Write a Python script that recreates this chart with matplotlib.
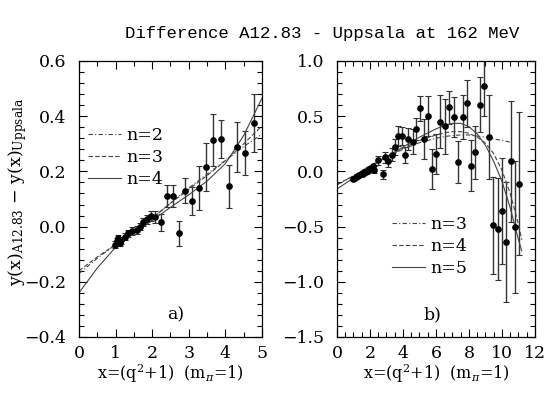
import numpy as np
import matplotlib
matplotlib.use("Agg")
import matplotlib.pyplot as plt
from matplotlib.ticker import MultipleLocator

# ---- panel a) data ----
xa = [0.98, 1.03, 1.07, 1.12, 1.16, 1.26, 1.35, 1.44, 1.58, 1.67, 1.74, 1.85, 1.97, 2.09,
      2.24, 2.41, 2.56, 2.73, 2.91, 3.08, 3.28, 3.47, 3.67, 3.88, 4.11, 4.33, 4.55, 4.78]
ya = [-0.066, -0.054, -0.042, -0.060, -0.050, -0.036, -0.024, -0.016, -0.012, 0.000, 0.016,
      0.026, 0.040, 0.036, 0.015, 0.110, 0.110, -0.024, 0.130, 0.092, 0.140, 0.216, 0.314,
      0.318, 0.146, 0.288, 0.267, 0.375]
ea = [0.012, 0.012, 0.012, 0.012, 0.012, 0.012, 0.013, 0.013, 0.014, 0.014, 0.015, 0.016,
      0.018, 0.022, 0.032, 0.040, 0.040, 0.045, 0.045, 0.050, 0.080, 0.088, 0.095, 0.070,
      0.078, 0.090, 0.080, 0.105]

xa_fit = [0.0, 0.5, 1.0, 1.5, 2.0, 2.5, 3.0, 3.5, 4.0, 4.5, 5.0]
fit_a_n2 = [-0.170, -0.115, -0.065, -0.020, 0.030, 0.085, 0.140, 0.190, 0.240, 0.290, 0.335]
fit_a_n3 = [-0.160, -0.110, -0.065, -0.020, 0.030, 0.085, 0.135, 0.185, 0.238, 0.300, 0.365]
fit_a_n4 = [-0.240, -0.150, -0.075, -0.025, 0.022, 0.070, 0.115, 0.165, 0.228, 0.330, 0.465]

# ---- panel b) data ----
xb = [1.00, 1.09, 1.18, 1.27, 1.36, 1.45, 1.55, 1.65, 1.75, 1.85, 1.95, 2.05, 2.16, 2.26,
      2.50, 2.77, 2.91, 3.11, 3.31, 3.52, 3.72, 3.92, 4.12, 4.33, 4.59, 4.79, 5.03, 5.27,
      5.53, 5.78, 6.00, 6.24, 6.55, 6.80, 7.07, 7.35, 7.61, 7.86, 8.14, 8.38, 8.67, 8.93,
      9.21, 9.47, 9.76, 10.02, 10.27, 10.54, 10.81, 11.05]
yb = [-0.065, -0.057, -0.050, -0.040, -0.035, -0.025, -0.020, -0.010, -0.002, 0.008, 0.018,
      0.030, 0.047, 0.017, 0.100, -0.025, 0.130, 0.092, 0.150, 0.220, 0.320, 0.320, 0.150,
      0.290, 0.270, 0.380, 0.570, 0.295, 0.500, 0.020, 0.160, 0.450, 0.410, 0.580, 0.495,
      0.085, 0.495, 0.615, 0.050, 0.175, 0.605, 0.770, 0.310, -0.490, -0.520, -0.360,
      -0.640, 0.090, -0.505, -0.110]
eb = [0.012, 0.012, 0.012, 0.012, 0.012, 0.012, 0.012, 0.012, 0.012, 0.012, 0.013, 0.014,
      0.015, 0.030, 0.040, 0.040, 0.050, 0.055, 0.060, 0.075, 0.090, 0.085, 0.075, 0.100,
      0.110, 0.100, 0.110, 0.180, 0.180, 0.180, 0.180, 0.240, 0.250, 0.150, 0.180, 0.190,
      0.200, 0.210, 0.230, 0.240, 0.250, 0.270, 0.380, 0.440, 0.460, 0.480, 0.540, 0.550,
      0.600, 0.650]

xb_fit = [0.0, 1.0, 2.0, 3.0, 4.0, 5.0, 6.0, 6.5, 7.0, 7.5, 8.0, 8.5, 9.0, 9.5, 10.0,
          10.5, 11.0, 11.2]
fit_b_n3 = [-0.120, -0.040, 0.050, 0.130, 0.200, 0.260, 0.300, 0.315, 0.325, 0.330, 0.330,
            0.320, 0.310, 0.295, 0.280, 0.265, None, None]
fit_b_n4 = [-0.120, -0.040, 0.050, 0.130, 0.210, 0.280, 0.330, 0.350, 0.360, 0.360, 0.345,
            0.310, 0.255, 0.160, 0.010, -0.200, -0.480, -0.620]
fit_b_n5 = [-0.160, -0.060, 0.040, 0.130, 0.220, 0.310, 0.385, 0.415, 0.435, 0.435, 0.405,
            0.340, 0.235, 0.090, -0.090, -0.330, -0.620, -0.720]

plt.rcParams["font.family"] = "DejaVu Serif"
plt.rcParams["mathtext.fontset"] = "dejavuserif"

fig = plt.figure(figsize=(5.5, 3.94), dpi=100)
ax_a = fig.add_axes([0.1436, 0.1447, 0.3327, 0.7005])
ax_b = fig.add_axes([0.6127, 0.1447, 0.3600, 0.7005])

line_col = "#444444"


def style_axes(ax, xmaj, xmin, ymaj, ymin):
    ax.xaxis.set_major_locator(MultipleLocator(xmaj))
    ax.xaxis.set_minor_locator(MultipleLocator(xmin))
    ax.yaxis.set_major_locator(MultipleLocator(ymaj))
    ax.yaxis.set_minor_locator(MultipleLocator(ymin))
    ax.tick_params(which="both", direction="in", top=True, right=True, labelsize=12.5, width=0.8)
    ax.tick_params(which="major", length=6)
    ax.tick_params(which="minor", length=3.5)
    ax.tick_params(axis="x", which="major", pad=6)
    ax.tick_params(axis="y", which="major", pad=9)
    ax.yaxis.set_major_formatter(plt.FuncFormatter(lambda v, p: f"{v:.1f}".replace("-", "\u2212")))
    for s in ax.spines.values():
        s.set_linewidth(0.9)


def plot_fit(ax, x, y, **kw):
    xs = [a for a, b in zip(x, y) if b is not None]
    ys = [b for b in y if b is not None]
    return ax.plot(xs, ys, color=line_col, lw=0.8, **kw)[0]


xlabel = r"x=(q$^2$+1)  (m$_\pi$=1)"
legend_kw = dict(loc="upper left", frameon=False, handlelength=1.9, handletextpad=0.3,
                 labelspacing=0.3, borderaxespad=0.0, fontsize=12.5)

# panel a
ax_a.errorbar(xa, ya, yerr=ea, fmt="o", color="black", ecolor="#333333", ms=3.8,
              elinewidth=1.0, capsize=2.5, capthick=0.8)
h2 = plot_fit(ax_a, xa_fit, fit_a_n2, ls=(0, (4, 2, 1, 2)))
h3 = plot_fit(ax_a, xa_fit, fit_a_n3, ls=(0, (4, 2)))
h4 = plot_fit(ax_a, xa_fit, fit_a_n4, ls="-")
ax_a.set_xlim(0, 5)
ax_a.set_ylim(-0.4, 0.6)
style_axes(ax_a, 1, 0.5, 0.2, 0.04)
ax_a.legend([h2, h3, h4], ["n=2", "n=3", "n=4"], bbox_to_anchor=(0.011, 0.786), **legend_kw)
ax_a.text(2.65, -0.32, "a)", fontsize=12.5, ha="center", va="center")
ax_a.set_xlabel(xlabel, fontsize=11.5, labelpad=0)

# panel b
ax_b.errorbar(xb, yb, yerr=eb, fmt="o", color="black", ecolor="#333333", ms=3.8,
              elinewidth=1.0, capsize=2.5, capthick=0.8)
g3 = plot_fit(ax_b, xb_fit, fit_b_n3, ls=(0, (4, 2, 1, 2)))
g4 = plot_fit(ax_b, xb_fit, fit_b_n4, ls=(0, (4, 2)))
g5 = plot_fit(ax_b, xb_fit, fit_b_n5, ls="-")
ax_b.set_xlim(0, 12)
ax_b.set_ylim(-1.5, 1.0)
style_axes(ax_b, 2, 0.5, 0.5, 0.1)
ax_b.legend([g3, g4, g5], ["n=3", "n=4", "n=5"], bbox_to_anchor=(0.242, 0.464), **legend_kw)
ax_b.text(5.8, -1.3, "b)", fontsize=12.5, ha="center", va="center")
ax_b.set_xlabel(xlabel, fontsize=11.5, labelpad=0)

fig.text(18 / 550, 1 - 192 / 394,
         r"y(x)$_{\mathregular{A12.83}}$ $-$ y(x)$_{\mathregular{Uppsala}}$",
         rotation=90, fontsize=12.5, ha="center", va="center")
fig.text(0.585, 0.915, "Difference A12.83 - Uppsala at 162 MeV",
         family="Liberation Mono", fontsize=12.5, ha="center", va="center")

fig.savefig("out.png", dpi=100)
